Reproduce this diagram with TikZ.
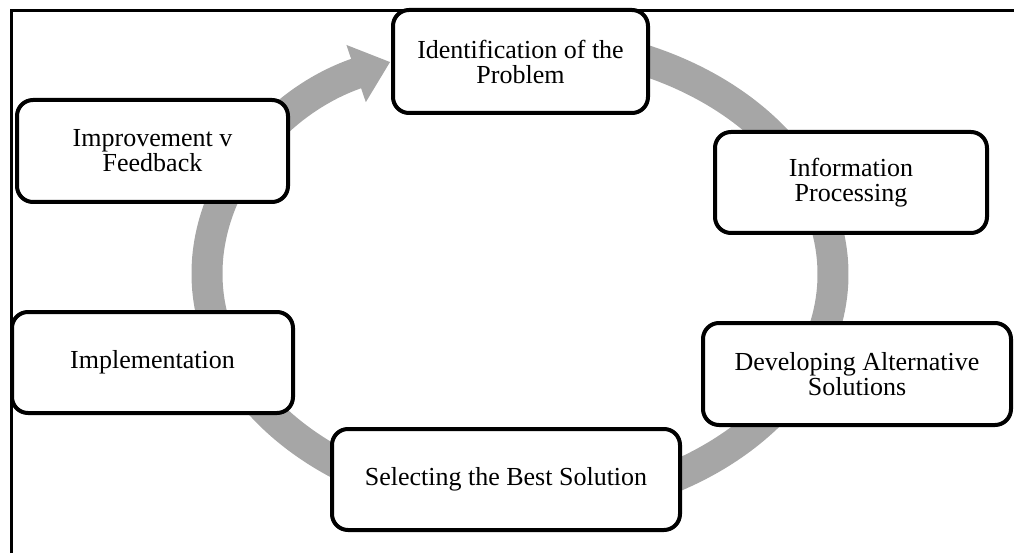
\documentclass[tikz,border=0pt]{standalone}
\usepackage{fontspec}
\setmainfont{Liberation Serif}
\usetikzlibrary{arrows.meta,calc}
\tikzset{
  stage/.style={draw,line width=2pt,rounded corners=8pt,fill=white,align=center,
    font=\fontsize{13}{12.5}\selectfont,inner sep=0pt},
  cycle/.style={line width=15.5pt,black!35,-{Triangle[length=18pt,width=29pt]}},
  frame/.style={line width=1.5pt}
}

\begin{document}
\begin{tikzpicture}[x=0.5pt,y=0.5pt]
      \useasboundingbox (0,0) rectangle (1014,553);
      \coordinate (C) at (520,279);
      \coordinate (B) at (11,0);
      \coordinate (TL) at (11,542);
      \coordinate (TR) at (1014,542);

      \draw[frame] (B) -- (TL) -- (TR);
      \draw[cycle] ($(C)+(95:313 and 233)$) arc[start angle=95,end angle=-245.5,x radius=313,y radius=233];

      \node[stage,minimum width=127.5pt,minimum height=51.5pt] (ident) at (520.5,491.5) {Identification of the\\Problem};
      \node[stage,minimum width=136pt,minimum height=50.5pt] (info) at (851,370.5) {Information\\Processing};
      \node[stage,minimum width=154pt,minimum height=51pt] (devel) at (857,179) {Developing Alternative\\Solutions};
      \node[stage,minimum width=174pt,minimum height=50.5pt] (best) at (506,73.5) {Selecting the Best Solution};
      \node[stage,minimum width=140.5pt,minimum height=50.5pt] (impl) at (152.5,190.5) {Implementation};
      \node[stage,minimum width=135.5pt,minimum height=51pt] (fb) at (152.5,402) {Improvement v\\Feedback};
    \end{tikzpicture}
\end{document}
